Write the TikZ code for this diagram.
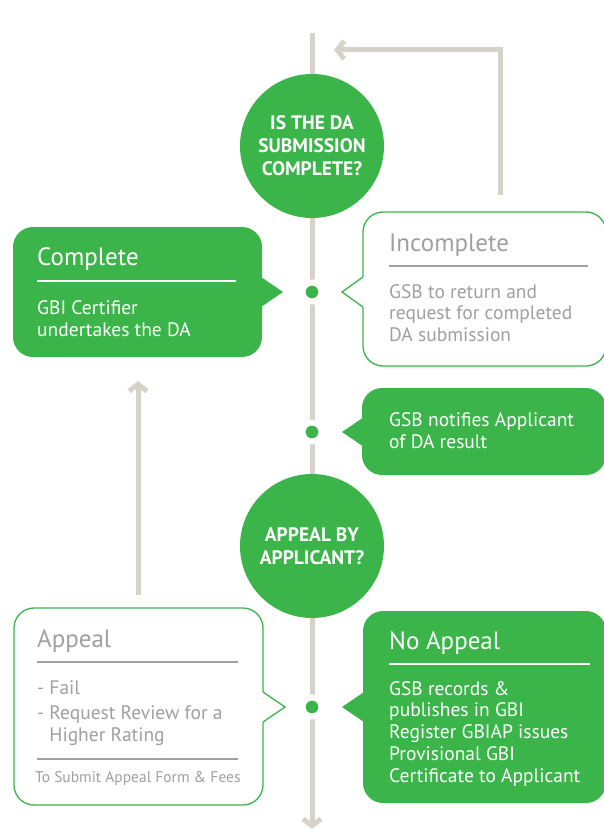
\documentclass[tikz,border=0pt]{standalone}
\usepackage{fontspec}
\setmainfont{PT Sans}
\usetikzlibrary{arrows.meta}
\definecolor{gbigreen}{RGB}{59,181,74}
\definecolor{flowgrey}{RGB}{214,210,201}
\definecolor{textgrey}{RGB}{160,160,160}
\tikzset{
  flow/.style={draw=flowgrey, line width=5pt},
  flowarrow/.style={flow, -{Straight Barb[length=7pt,width=18pt]}},
  question/.style={circle, fill=gbigreen, text=white, minimum size=144pt, inner sep=0pt,
    align=center, font=\bfseries\fontsize{19.5}{23}\selectfont},
  fullbox/.style={rectangle, rounded corners=20pt, fill=gbigreen, inner sep=0pt},
  linebox/.style={rectangle, rounded corners=20pt, fill=white, draw=gbigreen, line width=1.3pt, inner sep=0pt},
  stopdot/.style={circle, fill=gbigreen, draw=white, line width=6pt, minimum size=19pt, inner sep=0pt},
  headtext/.style={anchor=base west, inner sep=0pt, font=\fontsize{25}{28}\selectfont},
  % multi-line nodes sit on the baseline of their last line
  bodytext/.style={anchor=base west, inner sep=0pt, align=left, font=\fontsize{19.5}{21.5}\selectfont},
  smalltext/.style={anchor=base west, inner sep=0pt, font=\fontsize{15.5}{17}\selectfont}
}
\begin{document}
\begin{tikzpicture}[x=1pt,y=-1pt]
\useasboundingbox (0,0) rectangle (604,832);
\clip (0,0) rectangle (604,832);

% flow lines
\coordinate (top) at (312,33);
\coordinate (bottom) at (312,829);
\coordinate (back) at (500,195);
\coordinate (backend) at (334,50);
\coordinate (upstart) at (138,595);
\coordinate (upend) at (138,381);
\draw[flowarrow] (top) -- (bottom);
\draw[flowarrow] (back) |- (backend);
\draw[flowarrow] (upstart) -- (upend);

% questions
\node[question] (qsub) at (312,146) {IS THE DA\\SUBMISSION\\COMPLETE?};
\node[question] (qapp) at (312,546) {APPEAL BY\\APPLICANT?};

% stops on the spine
\node[stopdot] (s1) at (312,292) {};
\node[stopdot] (s2) at (312,432) {};
\node[stopdot] (s3) at (312,707) {};

% complete
\node[fullbox, minimum width=249pt, minimum height=130pt] (complete) at (137.5,292) {};
\fill[gbigreen] (261,277) -- (283,292) -- (261,307) -- cycle;
\node[headtext, text=white] (completehead) at (37,265) {Complete};
\draw[white, line width=1.2pt] (37,281) -- (236,281);
\node[bodytext, text=white] (completebody) at (37,336) {GBI Certifier\\undertakes the DA};

% incomplete
\node[linebox, minimum width=243pt, minimum height=154pt] (incomplete) at (484.5,289) {};
\fill[white] (365,276) -- (342,292) -- (365,308) -- cycle;
\draw[gbigreen, line width=1.3pt] (363,277) -- (342,292) -- (363,307);
\node[headtext, text=textgrey] (incompletehead) at (389,251) {Incomplete};
\draw[textgrey, line width=1.2pt] (389,266) -- (588,266);
\node[bodytext, text=textgrey] (incompletebody) at (389,341) {GSB to return and\\request for completed\\DA submission};

% notification
\node[fullbox, minimum width=244pt, minimum height=87pt] (notify) at (484,431.5) {};
\fill[gbigreen] (364,417) -- (342,432) -- (364,447) -- cycle;
\node[bodytext, text=white] (notifybody) at (389,448) {GSB notifies Applicant\\of DA result};

% appeal
\node[linebox, minimum width=249pt, minimum height=197pt] (appeal) at (138.5,706.5) {};
\fill[white] (261,691) -- (285,707) -- (261,723) -- cycle;
\draw[gbigreen, line width=1.3pt] (263,692) -- (285,707) -- (263,722);
\node[headtext, text=textgrey] (appealhead) at (37,647) {Appeal};
\draw[textgrey, line width=1.2pt] (37,662) -- (238,662);
\node[bodytext, text=textgrey] (appealfail) at (37,694) {- Fail};
\node[bodytext, text=textgrey] (appealreview) at (37,741) {- Request Review for a\\\hphantom{- }Higher Rating};
\draw[textgrey, line width=1.2pt] (37,759) -- (238,759);
\node[smalltext, text=textgrey] (appealnote) at (35,782) {To Submit Appeal Form \& Fees};

% no appeal
\node[fullbox, minimum width=243pt, minimum height=192pt] (noappeal) at (484.5,707) {};
\fill[gbigreen] (364,692) -- (342,707) -- (364,722) -- cycle;
\node[headtext, text=white] (noappealhead) at (389,649) {No Appeal};
\draw[white, line width=1.2pt] (389,664) -- (590,664);
\node[bodytext, text=white, font=\fontsize{19.5}{21.7}\selectfont] (noappealbody) at (389,782) {GSB records \&\\publishes in GBI\\Register GBIAP issues\\Provisional GBI\\Certificate to Applicant};
\end{tikzpicture}
\end{document}
